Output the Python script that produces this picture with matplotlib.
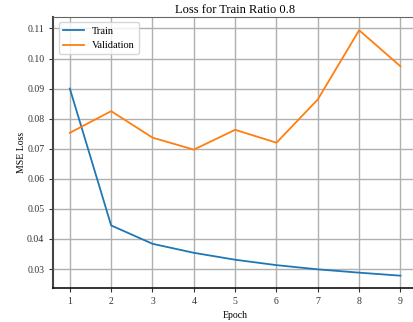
import numpy as np
import matplotlib
matplotlib.use("Agg")
import matplotlib.pyplot as plt

plt.rcParams['font.family'] = ['Liberation Serif', 'DejaVu Serif']

epochs = [1, 2, 3, 4, 5, 6, 7, 8, 9]
train_loss = [0.0900, 0.0445, 0.0384, 0.0354, 0.0331, 0.0313, 0.0299, 0.0288, 0.0278]
val_loss = [0.0753, 0.0825, 0.0737, 0.0697, 0.0763, 0.0720, 0.0864, 0.1094, 0.0974]

fig = plt.figure(figsize=(4.14, 3.22), dpi=100)
ax = fig.add_axes([53.3/414, 1-287.7/322, (417-53.3)/414, (287.7-17)/322])

ax.plot(epochs, train_loss, color='#1f77b4', lw=1.3, label='Train')
ax.plot(epochs, val_loss, color='#ff7f0e', lw=1.3, label='Validation')

ax.set_xticks(epochs)
ax.set_xlim(0.6, 9.4)
ax.set_ylim(0.0238, 0.1138)
ax.set_yticks([0.03, 0.04, 0.05, 0.06, 0.07, 0.08, 0.09, 0.10, 0.11])
ax.tick_params(labelsize=7, length=3, width=0.8, colors='#333333')
ax.grid(True, color='#b0b0b0', lw=1.0)
ax.set_axisbelow(True)

ax.spines['left'].set_color('#444444')
ax.spines['left'].set_linewidth(1.5)
ax.spines['bottom'].set_color('#111111')
ax.spines['bottom'].set_linewidth(1.2)
ax.spines['top'].set_color('#666666')
ax.spines['right'].set_visible(False)

ax.set_title('Loss for Train Ratio 0.8', fontsize=9, pad=3)
ax.set_xlabel('Epoch', fontsize=7)
ax.set_ylabel('MSE Loss', fontsize=7, labelpad=1)
ax.legend(loc='upper left', fontsize=7.5, framealpha=0.8)

fig.savefig('out.png', dpi=100)
